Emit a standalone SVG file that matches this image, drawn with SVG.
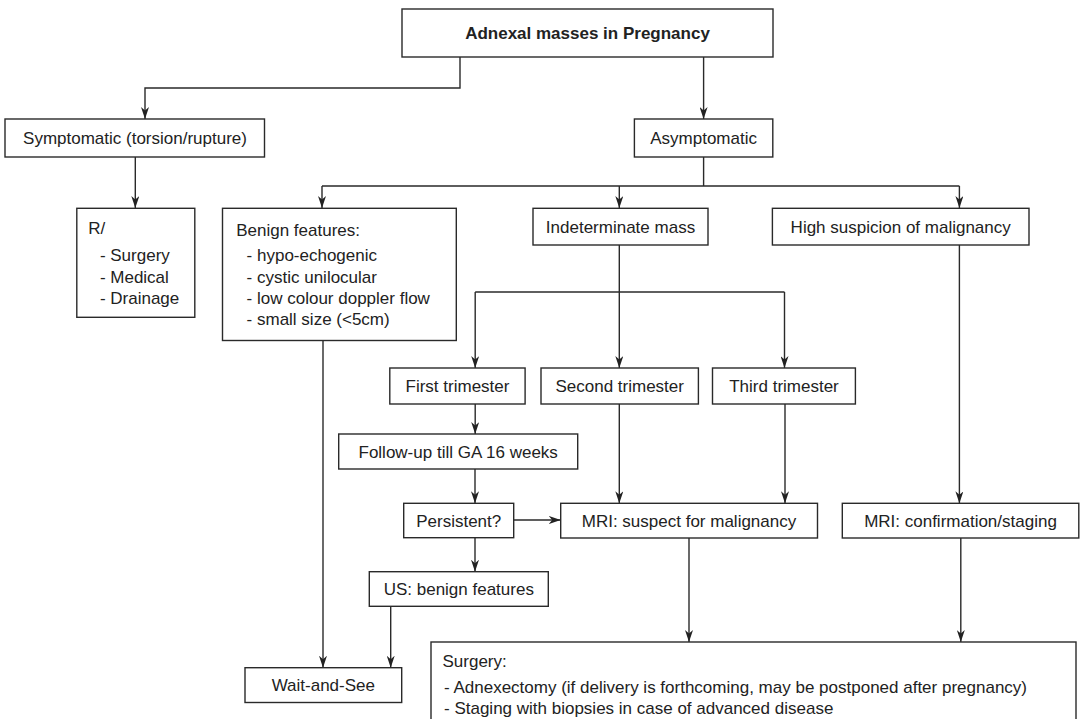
<svg xmlns="http://www.w3.org/2000/svg" width="1080" height="719" viewBox="0 0 1080 719">
<style>
rect{fill:#fff;stroke:#2a2a2a;stroke-width:1.4}
text{font-family:"Liberation Sans",Arial,Helvetica,sans-serif;font-size:17px;fill:#222}
.c{text-anchor:middle}
.b{font-weight:bold}
#connectors path{fill:none;stroke:#2a2a2a;stroke-width:1.4}
</style>
<defs>
<marker id="ah" viewBox="0 0 12 8" refX="12" refY="4" markerWidth="12" markerHeight="8" markerUnits="userSpaceOnUse" orient="auto">
<path d="M0,0 L12,4 L0,8 L3.5,4 Z" fill="#222"/>
</marker>
</defs>
<rect x="0" y="0" width="1080" height="719" style="fill:#fff;stroke:none"/>
<g id="connectors">
<path d="M460,57 V88 H145 V119" marker-end="url(#ah)"/>
<path d="M703.6,57 V119" marker-end="url(#ah)"/>
<path d="M135.3,157 V208" marker-end="url(#ah)"/>
<path d="M703.6,157 V186 M322,186 H959.4"/>
<path d="M322,186 V208" marker-end="url(#ah)"/>
<path d="M619.3,186 V208" marker-end="url(#ah)"/>
<path d="M959.4,186 V208" marker-end="url(#ah)"/>
<path d="M619.3,245 V368" marker-end="url(#ah)"/>
<path d="M475.2,292 H784.5"/>
<path d="M475.2,292 V368" marker-end="url(#ah)"/>
<path d="M784.5,292 V368" marker-end="url(#ah)"/>
<path d="M475.2,404 V434" marker-end="url(#ah)"/>
<path d="M475,469 V503.3" marker-end="url(#ah)"/>
<path d="M619.3,404 V503.3" marker-end="url(#ah)"/>
<path d="M785,404 V503.3" marker-end="url(#ah)"/>
<path d="M959.4,245 V503.3" marker-end="url(#ah)"/>
<path d="M513.7,520 H560.7" marker-end="url(#ah)"/>
<path d="M475,538 V571.7" marker-end="url(#ah)"/>
<path d="M390.7,606.3 V667.7" marker-end="url(#ah)"/>
<path d="M323,340.5 V667.7" marker-end="url(#ah)"/>
<path d="M689,538 V642" marker-end="url(#ah)"/>
<path d="M960.8,538 V642" marker-end="url(#ah)"/>
</g>
<g id="n_top"><rect x="402" y="9" width="371" height="48"/><text class="c b" x="587.5" y="39">Adnexal masses in Pregnancy</text></g>
<g id="n_sym"><rect x="5" y="119" width="259.5" height="38"/><text class="c" x="135" y="144">Symptomatic (torsion/rupture)</text></g>
<g id="n_asym"><rect x="634.4" y="119" width="138.4" height="38"/><text class="c" x="703.6" y="144">Asymptomatic</text></g>
<g id="n_r"><rect x="76.8" y="208.3" width="118" height="109"/>
<text x="88.2" y="234">R/</text>
<text x="99.9" y="261.3">- Surgery</text>
<text x="99.9" y="282.5">- Medical</text>
<text x="99.9" y="303.6">- Drainage</text></g>
<g id="n_benign"><rect x="222.5" y="208.3" width="233.8" height="132.2"/>
<text x="236.2" y="235.5">Benign features:</text>
<text x="246.6" y="261.3">- hypo-echogenic</text>
<text x="246.6" y="282.5">- cystic unilocular</text>
<text x="246.6" y="303.6">- low colour doppler flow</text>
<text x="246.6" y="324.8">- small size (&lt;5cm)</text></g>
<g id="n_indet"><rect x="533" y="208.3" width="175" height="36.7"/><text class="c" x="620.5" y="232.6">Indeterminate mass</text></g>
<g id="n_high"><rect x="772.4" y="208.3" width="256.6" height="36.7"/><text class="c" x="900.7" y="232.6">High suspicion of malignancy</text></g>
<g id="n_first"><rect x="389.8" y="368" width="135.3" height="36"/><text class="c" x="457.5" y="392">First trimester</text></g>
<g id="n_second"><rect x="541" y="368" width="157.4" height="36"/><text class="c" x="619.7" y="392">Second trimester</text></g>
<g id="n_third"><rect x="712.5" y="368" width="142.9" height="36"/><text class="c" x="784" y="392">Third trimester</text></g>
<g id="n_follow"><rect x="338.7" y="434" width="239" height="35"/><text class="c" x="458.2" y="457.5">Follow-up till GA 16 weeks</text></g>
<g id="n_persist"><rect x="403.7" y="503.3" width="110" height="34.4"/><text class="c" x="458.7" y="526.5">Persistent?</text></g>
<g id="n_mri1"><rect x="560.7" y="503.3" width="256.8" height="34.7"/><text class="c" x="689" y="526.5">MRI: suspect for malignancy</text></g>
<g id="n_mri2"><rect x="842.3" y="503.3" width="236.5" height="34.7"/><text class="c" x="960.5" y="526.5">MRI: confirmation/staging</text></g>
<g id="n_us"><rect x="369.3" y="571.7" width="179" height="34.6"/><text class="c" x="458.8" y="595">US: benign features</text></g>
<g id="n_wait"><rect x="245" y="667.7" width="156.7" height="34.8"/><text class="c" x="323.3" y="691">Wait-and-See</text></g>
<g id="n_surgery"><rect x="431" y="642" width="645" height="95"/>
<text x="442.5" y="667">Surgery:</text>
<text x="444" y="693">- Adnexectomy (if delivery is forthcoming, may be postponed after pregnancy)</text>
<text x="444" y="713.5">- Staging with biopsies in case of advanced disease</text></g>
</svg>
